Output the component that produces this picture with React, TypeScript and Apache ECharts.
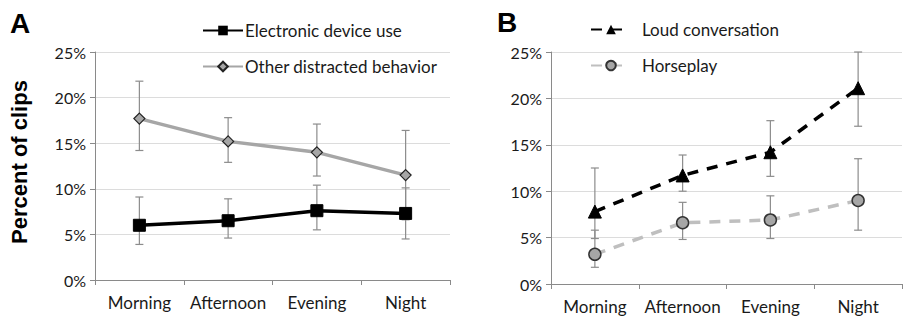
import React, { useEffect, useRef } from "react";
import * as echarts from "echarts";

const categories = ["Morning", "Afternoon", "Evening", "Night"];

// Panel A
const electronicUse = [6.0, 6.5, 7.6, 7.3];
const electronicLow = [3.9, 4.6, 5.5, 4.5];
const electronicHigh = [9.1, 8.9, 10.4, 10.1];
const otherDistracted = [17.7, 15.2, 14.0, 11.5];
const otherLow = [14.2, 12.9, 11.4, 6.6];
const otherHigh = [21.8, 17.8, 17.1, 16.4];

// Panel B
const loudConversation = [7.8, 11.7, 14.2, 21.1];
const loudLow = [4.9, 10.0, 11.6, 17.0];
const loudHigh = [12.5, 13.9, 17.6, 25.0];
const horseplay = [3.2, 6.6, 6.9, 9.0];
const horseLow = [1.8, 4.8, 4.9, 5.8];
const horseHigh = [5.8, 8.8, 9.5, 13.5];

const yTicks = [0, 5, 10, 15, 20, 25];

const FONT = "Lato, 'Open Sans', sans-serif";
const AXIS_GRAY = "#8a8a8a";
const ERR_GRAY = "#8c8c8c";

function errorData(low: number[], high: number[]) {
  return categories.map((_, i) => [i, low[i], high[i]]);
}

function errorSeries(name: string, idx: number, low: number[], high: number[]) {
  return {
    type: "custom",
    name,
    xAxisIndex: idx,
    yAxisIndex: idx,
    silent: true,
    z: 1,
    data: errorData(low, high),
    renderItem: (_params: any, api: any) => {
      const x = api.value(0);
      const lo = api.coord([x, api.value(1)]);
      const hi = api.coord([x, api.value(2)]);
      const cap = 4;
      const style = { stroke: ERR_GRAY, lineWidth: 1.2 };
      return {
        type: "group",
        children: [
          { type: "line", shape: { x1: lo[0], y1: lo[1], x2: hi[0], y2: hi[1] }, style },
          { type: "line", shape: { x1: lo[0] - cap, y1: lo[1], x2: lo[0] + cap, y2: lo[1] }, style },
          { type: "line", shape: { x1: hi[0] - cap, y1: hi[1], x2: hi[0] + cap, y2: hi[1] }, style },
        ],
      };
    },
  };
}

function xAxis(idx: number) {
  return {
    type: "category",
    gridIndex: idx,
    data: categories,
    boundaryGap: true,
    axisLine: { show: true, lineStyle: { color: AXIS_GRAY, width: 1 } },
    axisTick: { show: true, length: 5, interval: 0, lineStyle: { color: AXIS_GRAY } },
    axisLabel: { color: "#1a1a1a", fontSize: 17, fontFamily: FONT, margin: 14, interval: 0 },
  };
}

function yAxis(idx: number) {
  return {
    type: "value",
    gridIndex: idx,
    min: yTicks[0],
    max: yTicks[yTicks.length - 1],
    interval: 5,
    axisLine: { show: true, lineStyle: { color: AXIS_GRAY, width: 1 } },
    axisTick: { show: true, length: 5, lineStyle: { color: AXIS_GRAY } },
    axisLabel: { color: "#1a1a1a", fontSize: 16, fontFamily: FONT, margin: 9, formatter: "{value}%" },
    splitLine: { show: true, lineStyle: { color: "#dcdcdc", width: 1 } },
  };
}

export default function App() {
  const ref = useRef<HTMLDivElement>(null);

  useEffect(() => {
    if (!ref.current) return;
    const chart = echarts.init(ref.current, null, { renderer: "svg" });
    chart.setOption({
      animation: false,
      backgroundColor: "#ffffff",
      grid: [
        { left: 95, right: 453, top: 52, bottom: 44 },
        { left: 551, right: 1, top: 52, bottom: 40 },
      ],
      xAxis: [xAxis(0), xAxis(1)],
      yAxis: [yAxis(0), yAxis(1)],
      legend: [
        {
          orient: "vertical",
          left: 197,
          top: 17,
          itemWidth: 40,
          itemHeight: 12,
          itemGap: 19,
          textStyle: { fontSize: 17, fontFamily: FONT, color: "#1a1a1a", padding: [0, 0, 0, -3] },
          data: ["Electronic device use", "Other distracted behavior"],
        },
        {
          orient: "vertical",
          left: 585,
          top: 16,
          itemWidth: 40,
          itemHeight: 12,
          itemGap: 19,
          textStyle: { fontSize: 17, fontFamily: FONT, color: "#1a1a1a", padding: [0, 0, 0, 6] },
          data: ["Loud conversation", "Horseplay"],
        },
      ],
      graphic: [
        {
          type: "text",
          left: 10,
          top: 9,
          style: { text: "A", fontSize: 28, fontWeight: "bold", fontFamily: "Liberation Sans, Arial, sans-serif", fill: "#000" },
        },
        {
          type: "text",
          left: 497,
          top: 8,
          style: { text: "B", fontSize: 28, fontWeight: "bold", fontFamily: "Liberation Sans, Arial, sans-serif", fill: "#000" },
        },
        {
          type: "text",
          x: 19,
          y: 162,
          rotation: Math.PI / 2,
          style: {
            text: "Percent of clips",
            fontSize: 22,
            fontWeight: "bold",
            fontFamily: "Liberation Sans, Arial, sans-serif",
            fill: "#000",
            align: "center",
            verticalAlign: "middle",
          },
        },
      ],
      series: [
        errorSeries("errElectronic", 0, electronicLow, electronicHigh),
        errorSeries("errOther", 0, otherLow, otherHigh),
        errorSeries("errLoud", 1, loudLow, loudHigh),
        errorSeries("errHorse", 1, horseLow, horseHigh),
        {
          type: "line",
          name: "Electronic device use",
          xAxisIndex: 0,
          yAxisIndex: 0,
          data: electronicUse,
          z: 3,
          symbol: "rect",
          symbolSize: 12,
          itemStyle: { color: "#000", borderColor: "#000" },
          lineStyle: { color: "#000", width: 3.5 },
        },
        {
          type: "line",
          name: "Other distracted behavior",
          xAxisIndex: 0,
          yAxisIndex: 0,
          data: otherDistracted,
          z: 3,
          symbol: "diamond",
          symbolSize: 11,
          itemStyle: { color: "#a6a6a6", borderColor: "#222", borderWidth: 1.2 },
          lineStyle: { color: "#a6a6a6", width: 3.5 },
        },
        {
          type: "line",
          name: "Loud conversation",
          xAxisIndex: 1,
          yAxisIndex: 1,
          data: loudConversation,
          z: 3,
          symbol: "triangle",
          symbolSize: 13,
          itemStyle: { color: "#000", borderColor: "#000" },
          lineStyle: { color: "#000", width: 3.5, type: [11, 9] },
        },
        {
          type: "line",
          name: "Horseplay",
          xAxisIndex: 1,
          yAxisIndex: 1,
          data: horseplay,
          z: 3,
          symbol: "circle",
          symbolSize: 12,
          itemStyle: { color: "#a6a6a6", borderColor: "#333", borderWidth: 1.5 },
          lineStyle: { color: "#bfbfbf", width: 3.5, type: [11, 9] },
        },
      ],
    });
    return () => chart.dispose();
  }, []);

  return <div ref={ref} style={{ width: 903, height: 324, position: "absolute", left: 0, top: 0 }} />;
}
